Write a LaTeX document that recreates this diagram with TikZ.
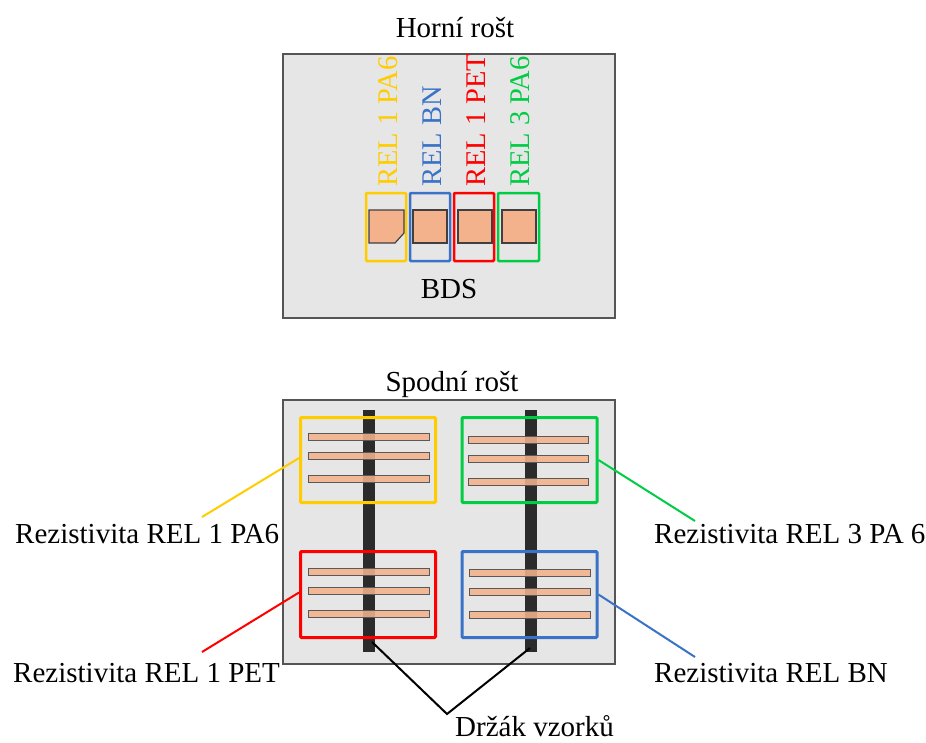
\documentclass[tikz,border=0pt]{standalone}
\usepackage{fontspec}
\setmainfont{Liberation Serif}
\definecolor{cgray}{HTML}{E6E6E6}
\definecolor{cedge}{HTML}{555555}
\definecolor{cyel}{HTML}{FFCC00}
\definecolor{cblue}{HTML}{3A72C8}
\definecolor{cred}{HTML}{FF0000}
\definecolor{cgreen}{HTML}{00CC44}
\definecolor{corange}{HTML}{F4B28C}
\definecolor{cbar}{HTML}{2B2B2B}
\begin{document}
\begin{tikzpicture}[x=1pt,y=-1pt,
  txt/.style={font=\fontsize{29}{34}\selectfont, inner sep=0pt},
  vtxt/.style={font=\fontsize{28.5}{33}\selectfont, inner sep=0pt, rotate=90, anchor=base west},
  panel/.style={draw=cedge, fill=cgray, line width=1.3pt},
  smallframe/.style={draw=#1, line width=2.5pt, rounded corners=1pt},
  bigframe/.style={draw=#1, line width=3pt, rounded corners=1pt},
  chip/.style={draw=black!75, fill=corange, line width=1.2pt},
  strip/.style={draw=black!65, fill=corange, fill opacity=0.88, line width=1pt},
  holder/.style={fill=cbar, draw=none},
  link/.style={draw=#1, line width=2pt}
]
\useasboundingbox (0,0) rectangle (926,742);

% ---------- top panel ----------
\node[txt, anchor=base] (titletop) at (455,37) {Horní rošt};
\draw[panel] (283,54) rectangle (615,318);

\draw[smallframe=cyel] (366,193) rectangle (406,261);
\draw[smallframe=cblue] (410,193) rectangle (450,261);
\draw[smallframe=cred] (454,193) rectangle (494,261);
\draw[smallframe=cgreen] (498,193) rectangle (539,261);

\draw[chip] (369,210) -- (404,210) -- (404,233) -- (395,243) -- (369,243) -- cycle;
\draw[chip] (413,210) rectangle (447,243);
\draw[chip] (458,210) rectangle (492,243);
\draw[chip] (502,210) rectangle (536,243);

\node[vtxt, text=cyel] (l1) at (397,187) {REL 1 PA6};
\node[vtxt, text=cblue] (l2) at (441,187) {REL BN};
\node[vtxt, text=cred] (l3) at (485,187) {REL 1 PET};
\node[vtxt, text=cgreen] (l4) at (529,187) {REL 3 PA6};

\node[txt, anchor=base] (bds) at (449,298) {BDS};

% ---------- bottom panel ----------
\node[txt, anchor=base] (titlebot) at (452,391) {Spodní rošt};
\draw[panel] (283,400) rectangle (615,664);

\node[holder, minimum width=12pt, minimum height=242pt, inner sep=0pt] (barL) at (368.5,531) {};
\node[holder, minimum width=12pt, minimum height=242pt, inner sep=0pt] (barR) at (531,531) {};

% strips
\foreach \y in {437,456,479} \draw[strip] (308,\y-3.5) rectangle (429,\y+3.5);
\foreach \y in {440,459,482} \draw[strip] (468,\y-3.5) rectangle (588,\y+3.5);
\foreach \y in {572,591,614} \draw[strip] (308,\y-3.5) rectangle (429,\y+3.5);
\foreach \y in {573,592,615} \draw[strip] (469,\y-3.5) rectangle (590,\y+3.5);

% frames
\node[bigframe=cyel, minimum width=135pt, minimum height=85pt, inner sep=0pt] (fY) at (368,460) {};
\node[bigframe=cgreen, minimum width=135pt, minimum height=85pt, inner sep=0pt] (fG) at (529.5,460) {};
\node[bigframe=cred, minimum width=135pt, minimum height=86pt, inner sep=0pt] (fR) at (368,594.5) {};
\node[bigframe=cblue, minimum width=135pt, minimum height=86pt, inner sep=0pt] (fB) at (529.5,594.5) {};

% labels
\node[txt, anchor=base west] (rY) at (15,543) {Rezistivita REL 1 PA6};
\node[txt, anchor=base west] (rR) at (13,682) {Rezistivita REL 1 PET};
\node[txt, anchor=base west] (rG) at (654,543) {Rezistivita REL 3 PA 6};
\node[txt, anchor=base west] (rB) at (654,682) {Rezistivita REL BN};
\node[txt, anchor=base west] (hold) at (455,736) {Držák vzorků};

\coordinate (eY) at (202,517);
\coordinate (eR) at (202,652);
\coordinate (eG) at (695,521);
\coordinate (eB) at (695,657);
\coordinate (vH) at (447,714);
\coordinate (bL) at (372,642);
\coordinate (bR) at (530,648);

\draw[link=cyel] ([yshift=2pt]fY.west) -- (eY);
\draw[link=cred] ([yshift=2pt]fR.west) -- (eR);
\draw[link=cgreen] (fG.east) -- (eG);
\draw[link=cblue] (fB.east) -- (eB);
\draw[link=black, line join=miter] (bL) -- (vH) -- (bR);
\end{tikzpicture}
\end{document}
